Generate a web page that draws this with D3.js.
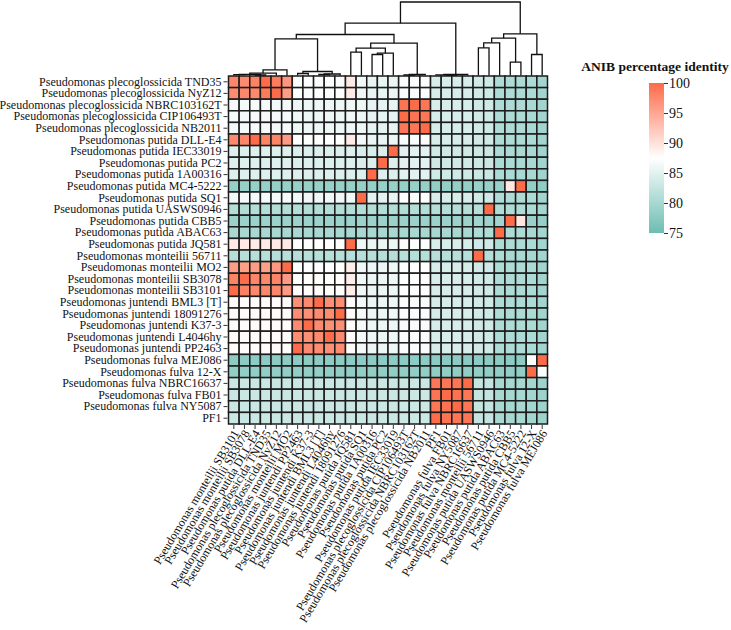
<!DOCTYPE html>
<html><head><meta charset="utf-8">
<script src="https://cdn.jsdelivr.net/npm/d3@7"></script>
<style>body{margin:0;background:#fff}</style>
</head><body>
<svg id="chart" width="731" height="630"></svg>
<script>
const rowLabels = [
"Pseudomonas plecoglossicida TND35","Pseudomonas plecoglossicida NyZ12","Pseudomonas plecoglossicida NBRC103162T",
"Pseudomonas plecoglossicida CIP106493T","Pseudomonas plecoglossicida NB2011","Pseudomonas putida DLL-E4",
"Pseudomonas putida IEC33019","Pseudomonas putida PC2","Pseudomonas putida 1A00316","Pseudomonas putida MC4-5222",
"Pseudomonas putida SQ1","Pseudomonas putida UASWS0946","Pseudomonas putida CBB5","Pseudomonas putida ABAC63",
"Pseudomonas putida JQ581","Pseudomonas monteilii 56711","Pseudomonas monteilii MO2","Pseudomonas monteilii SB3078",
"Pseudomonas monteilii SB3101","Pseudomonas juntendi BML3 [T]","Pseudomonas juntendi 18091276","Pseudomonas juntendi K37-3",
"Pseudomonas juntendi L4046hy","Pseudomonas juntendi PP2463","Pseudomonas fulva MEJ086","Pseudomonas fulva 12-X",
"Pseudomonas fulva NBRC16637","Pseudomonas fulva FB01","Pseudomonas fulva NY5087","PF1"];

const colLabels = [
"Pseudomonas monteilii SB3101","Pseudomonas monteilii SB3078","Pseudomonas putida DLL-E4","Pseudomonas plecoglossicida TND35",
"Pseudomonas plecoglossicida NyZ12","Pseudomonas monteilii MO2","Pseudomonas juntendi PP2463","Pseudomonas juntendi K37-3",
"Pseudomonas juntendi BML3 [T]","Pseudomonas juntendi L4046hy","Pseudomonas juntendi 18091276","Pseudomonas putida JQ581",
"Pseudomonas putida SQ1","Pseudomonas putida 1A00316","Pseudomonas putida PC2","Pseudomonas putida IEC33019",
"Pseudomonas plecoglossicida CIP106493T","Pseudomonas plecoglossicida NBRC103162T","Pseudomonas plecoglossicida NB2011","PF1",
"Pseudomonas fulva FB01","Pseudomonas fulva NY5087","Pseudomonas fulva NBRC16637","Pseudomonas monteilii 56711",
"Pseudomonas putida UASWS0946","Pseudomonas putida ABAC63","Pseudomonas putida CBB5","Pseudomonas putida MC4-5222",
"Pseudomonas fulva 12-X","Pseudomonas fulva MEJ086"];

// ANIb % identity, rows x columns (column order as colLabels)
const values = [
[97.6,97.4,98.0,100,98.6,96.4,87.2,87.3,87.2,87.3,87.2,89.4,86.4,85.6,85.6,85.7,87.0,87.0,87.1,84.0,84.0,84.0,84.0,83.6,83.4,80.6,80.6,80.5,80.4,79.6],
[97.2,97.6,97.5,98.6,100,95.8,87.3,87.2,87.3,87.2,87.3,89.2,86.2,85.6,85.6,85.7,87.0,87.0,87.1,84.0,84.0,84.1,84.0,83.6,83.4,80.6,80.6,80.5,80.4,79.6],
[86.6,86.6,86.7,86.6,86.6,86.5,86.0,86.0,86.0,86.0,86.0,86.2,86.0,85.3,85.3,85.5,99.2,100,99.0,84.0,84.0,84.0,84.0,83.6,83.4,80.6,80.6,80.5,80.3,79.6],
[86.6,86.6,86.7,86.6,86.6,86.5,86.0,86.0,86.0,86.0,86.0,86.2,86.0,85.3,85.3,85.5,100,99.2,99.0,84.0,84.0,84.0,84.0,83.6,83.4,80.6,80.6,80.5,80.3,79.6],
[86.6,86.6,86.7,86.6,86.6,86.5,86.0,86.0,86.0,86.0,86.0,86.2,86.0,85.3,85.3,85.5,99.0,99.1,100,84.0,84.0,84.0,84.0,83.6,83.4,80.6,80.6,80.5,80.3,79.6],
[97.4,97.6,100,98.0,97.9,96.0,87.6,87.6,87.7,87.6,87.6,89.2,86.4,85.7,85.7,85.8,87.1,87.1,87.2,84.0,84.0,84.0,84.0,83.6,83.4,80.6,80.6,80.5,80.4,79.6],
[84.6,84.6,84.6,84.6,84.6,84.6,84.4,84.4,84.4,84.4,84.4,84.6,84.3,84.2,84.4,100,85.0,85.0,85.0,83.4,83.4,83.4,83.4,83.2,83.0,80.4,80.4,80.3,80.2,79.4],
[84.6,84.6,84.6,84.6,84.6,84.6,84.4,84.4,84.4,84.4,84.4,84.5,84.3,84.5,100,84.6,85.0,85.0,85.0,83.4,83.4,83.4,83.4,83.2,83.0,80.4,80.4,80.3,80.2,79.4],
[84.7,84.7,84.7,84.7,84.7,84.7,84.5,84.5,84.5,84.5,84.5,84.5,84.4,100,84.6,84.5,85.0,85.0,85.0,83.4,83.4,83.4,83.4,83.2,83.0,80.4,80.4,80.3,80.2,79.4],
[78.6,78.6,78.6,78.6,78.6,78.6,78.6,78.6,78.6,78.6,78.6,78.6,78.6,78.6,78.6,78.6,78.6,78.6,78.6,78.3,78.3,78.3,78.3,78.8,78.8,78.8,89.6,100,78.3,78.0],
[86.6,86.6,86.6,86.6,86.6,86.6,86.2,86.2,86.2,86.2,86.2,86.3,100,85.2,85.2,85.6,87.6,87.0,87.6,84.0,84.0,84.0,84.0,83.6,83.4,80.6,80.6,80.5,80.4,79.6],
[81.0,81.0,81.0,81.0,81.0,81.0,81.0,81.0,81.0,81.0,81.0,81.0,81.0,81.0,81.0,81.0,81.0,81.0,81.0,81.2,81.2,81.2,81.2,81.4,100,80.8,80.6,80.6,80.4,79.8],
[79.0,79.0,79.0,79.0,79.0,79.0,79.0,79.0,79.0,79.0,79.0,79.0,79.0,79.0,79.0,79.0,79.0,79.0,79.0,79.0,79.0,79.0,79.0,79.4,79.2,79.6,100,89.6,78.8,78.4],
[80.2,80.2,80.2,80.2,80.2,80.2,80.2,80.2,80.2,80.2,80.2,80.2,80.2,80.2,80.2,80.2,80.2,80.2,80.2,80.2,80.2,80.2,80.2,80.6,80.8,100,80.6,80.6,80.2,79.8],
[89.3,89.3,89.3,89.3,89.3,89.2,87.6,87.6,87.6,87.6,87.6,100,86.0,85.6,85.6,85.8,87.2,87.2,87.2,84.0,84.0,84.0,84.0,83.6,83.4,80.6,80.6,80.5,80.4,79.6],
[81.4,81.4,81.4,81.4,81.4,81.4,81.4,81.4,81.4,81.4,81.4,81.4,81.4,81.4,81.4,81.4,81.4,81.4,81.4,81.4,81.4,81.4,81.4,100,81.2,80.4,80.2,80.2,80.0,79.6],
[95.8,95.6,95.8,95.6,96.2,100,87.6,87.6,87.6,87.6,87.6,89.0,86.2,85.8,85.8,86.0,87.3,87.3,87.4,84.0,84.0,84.0,84.0,83.6,83.4,80.6,80.6,80.5,80.4,79.6],
[98.0,100,97.8,97.6,97.8,96.0,87.7,87.7,87.7,87.7,87.7,89.0,86.3,85.8,85.8,86.0,87.3,87.3,87.4,84.0,84.0,84.0,84.0,83.6,83.4,80.6,80.6,80.5,80.4,79.6],
[100,98.2,97.6,97.6,97.6,96.0,87.7,87.7,87.7,87.7,87.7,89.0,86.3,85.8,85.8,86.0,87.3,87.3,87.4,84.0,84.0,84.0,84.0,83.6,83.4,80.6,80.6,80.5,80.4,79.6],
[87.8,87.8,87.8,87.8,87.8,87.8,97.0,97.4,100,97.0,97.2,87.8,86.5,85.8,85.8,86.0,87.0,87.0,87.0,84.0,84.0,84.0,84.0,83.6,83.4,80.6,80.6,80.5,80.4,79.6],
[87.8,87.8,87.8,87.8,87.8,87.8,97.2,97.0,97.4,97.2,100,87.8,86.5,85.8,85.8,86.0,87.0,87.0,87.0,84.0,84.0,84.0,84.0,83.6,83.4,80.6,80.6,80.5,80.4,79.6],
[87.8,87.8,87.8,87.8,87.8,87.8,97.4,100,97.4,97.0,97.0,87.8,86.5,85.8,85.8,86.0,87.0,87.0,87.0,84.0,84.0,84.0,84.0,83.6,83.4,80.6,80.6,80.5,80.4,79.6],
[87.8,87.8,87.8,87.8,87.8,87.8,97.2,97.0,97.4,100,97.4,87.8,86.5,85.8,85.8,86.0,87.0,87.0,87.0,84.0,84.0,84.0,84.0,83.6,83.4,80.6,80.6,80.5,80.4,79.6],
[87.8,87.8,87.8,87.8,87.8,87.8,100,97.4,97.2,97.0,97.2,87.8,86.5,85.8,85.8,86.0,87.0,87.0,87.0,84.0,84.0,84.0,84.0,83.6,83.4,80.6,80.6,80.5,80.4,79.6],
[77.8,77.8,77.8,77.8,77.8,77.8,77.8,77.8,77.8,77.8,77.8,77.8,77.8,77.8,77.8,77.8,77.8,77.8,77.8,77.6,77.6,77.6,77.6,77.8,77.8,77.8,77.8,77.8,87.2,100],
[78.2,78.2,78.2,78.2,78.2,78.2,78.2,78.2,78.2,78.2,78.2,78.2,78.2,78.2,78.2,78.2,78.2,78.2,78.2,78.0,78.0,78.0,78.0,78.2,78.2,78.2,78.2,78.2,100,87.0],
[83.0,83.0,83.0,83.0,83.0,83.0,83.0,83.0,83.0,83.0,83.0,83.0,83.0,83.0,83.0,83.0,83.2,83.2,83.2,99.0,99.1,99.0,100,82.6,82.4,80.2,80.0,80.0,79.8,79.2],
[83.0,83.0,83.0,83.0,83.0,83.0,83.0,83.0,83.0,83.0,83.0,83.0,83.0,83.0,83.0,83.0,83.2,83.2,83.2,99.2,100,99.3,99.1,82.6,82.4,80.2,80.0,80.0,79.8,79.2],
[83.0,83.0,83.0,83.0,83.0,83.0,83.0,83.0,83.0,83.0,83.0,83.0,83.0,83.0,83.0,83.0,83.2,83.2,83.2,99.1,99.3,100,99.0,82.6,82.4,80.2,80.0,80.0,79.8,79.2],
[83.0,83.0,83.0,83.0,83.0,83.0,83.0,83.0,83.0,83.0,83.0,83.0,83.0,83.0,83.0,83.0,83.2,83.2,83.2,100,99.2,99.1,99.0,82.6,82.4,80.2,80.0,80.0,79.8,79.2]
];

const legendTicks = [100, 95, 90, 85, 80, 75];
const colorDomain = [75, 87.5, 100];
const colorRange = ["#6cbdb3", "#ffffff", "#fd6b48"];

// column dendrogram: [child A, child B, merge height]; leaves are 0..29, new nodes numbered from 30
const merges = [
[0,1,0.8],[2,3,0.5],[30,31,1.2],[32,4,2.3],[33,5,5.7],
[6,7,2.0],[8,9,1.0],[36,10,1.5],[35,37,4.0],[34,38,36.7],
[11,12,23.3],[13,14,21.0],[41,15,22.3],[40,42,27.3],[16,17,0.5],[44,18,1.0],[43,45,32.3],
[39,46,41.0],[20,21,0.3],[19,48,0.6],[49,22,1.0],[47,50,52.3],
[23,24,27.7],[52,25,32.7],[26,27,13.3],[53,54,37.3],[28,29,21.0],[55,56,41.7],[51,57,73.5]
];

const svg = d3.select("#chart");
const font = "'Liberation Serif','Times New Roman',serif";
const L = 228.5, R = 547.5, T = 76, B = 424;

const x = d3.scaleBand().domain(d3.range(colLabels.length)).range([L, R]);
const y = d3.scaleBand().domain(d3.range(rowLabels.length)).range([T, B]);
const color = d3.scaleLinear().domain(colorDomain).range(colorRange).clamp(true);

// cells
const cells = [];
values.forEach((row, i) => row.forEach((v, j) => cells.push({i, j, v})));
svg.append("g").selectAll("rect").data(cells).join("rect")
  .attr("x", d => x(d.j)).attr("y", d => y(d.i))
  .attr("width", x.bandwidth()).attr("height", y.bandwidth())
  .attr("fill", d => color(d.v))
  .attr("stroke", "#1c1c1c").attr("stroke-width", 1.5);

// row axis
const yAxis = d3.axisLeft(y).tickSize(4).tickPadding(2).tickFormat(i => rowLabels[i]);
const gy = svg.append("g").attr("transform", `translate(${L-1},0)`).call(yAxis);
gy.select(".domain").remove();
gy.selectAll("text").attr("font-family", font).attr("font-size", 12).attr("fill", "#111");
gy.selectAll("line").attr("stroke", "#333");

// column axis
const xAxis = d3.axisBottom(x).tickSize(4).tickFormat(i => colLabels[i]);
const gx = svg.append("g").attr("transform", `translate(0,${B+1})`).call(xAxis);
gx.select(".domain").remove();
gx.selectAll("line").attr("stroke", "#333");
gx.selectAll("text").attr("font-family", font).attr("font-size", 12).attr("fill", "#111")
  .attr("text-anchor", "end").attr("dy", "0.35em")
  .attr("transform", "translate(2,6) rotate(-59)").attr("x", 0).attr("y", 0);

// dendrogram
const hScale = d3.scaleLinear().domain([0, d3.max(merges, m => m[2])]).range([T - 0.5, 2]);
const nodes = colLabels.map((c, j) => ({x: x(j) + x.bandwidth()/2, h: 0}));
const dg = svg.append("g").attr("fill", "none").attr("stroke", "#111").attr("stroke-width", 1.3);
merges.forEach(([a, b, h]) => {
  const na = nodes[a], nb = nodes[b];
  const yy = hScale(h);
  dg.append("path").attr("d",
    `M${na.x},${hScale(na.h)}V${yy}H${nb.x}V${hScale(nb.h)}`);
  nodes.push({x: (na.x + nb.x)/2, h});
});

// legend
const lx = 649, lw = 15, lt = 83, lb = 233;
const defs = svg.append("defs");
const grad = defs.append("linearGradient").attr("id", "lg").attr("x1", 0).attr("y1", 1).attr("x2", 0).attr("y2", 0);
const lScale = d3.scaleLinear().domain([75, 100]).range([lb, lt]);
colorDomain.forEach(v => grad.append("stop").attr("offset", (v-75)/25).attr("stop-color", color(v)));
svg.append("rect").attr("x", lx).attr("y", lt).attr("width", lw).attr("height", lb - lt).attr("fill", "url(#lg)");
const lAxis = d3.axisRight(lScale).tickValues(legendTicks).tickSize(4).tickPadding(1);
const gl = svg.append("g").attr("transform", `translate(${lx+lw},0)`).call(lAxis);
gl.select(".domain").remove();
gl.selectAll("line").attr("stroke", "#333");
gl.selectAll("text").attr("font-family", font).attr("font-size", 14).attr("fill", "#111");
svg.append("text").attr("x", 655).attr("y", 71).attr("text-anchor", "middle")
  .attr("font-family", font).attr("font-weight", "bold").attr("font-size", 13.5).attr("fill", "#111")
  .text("ANIB percentage identity");
</script>
</body></html>
